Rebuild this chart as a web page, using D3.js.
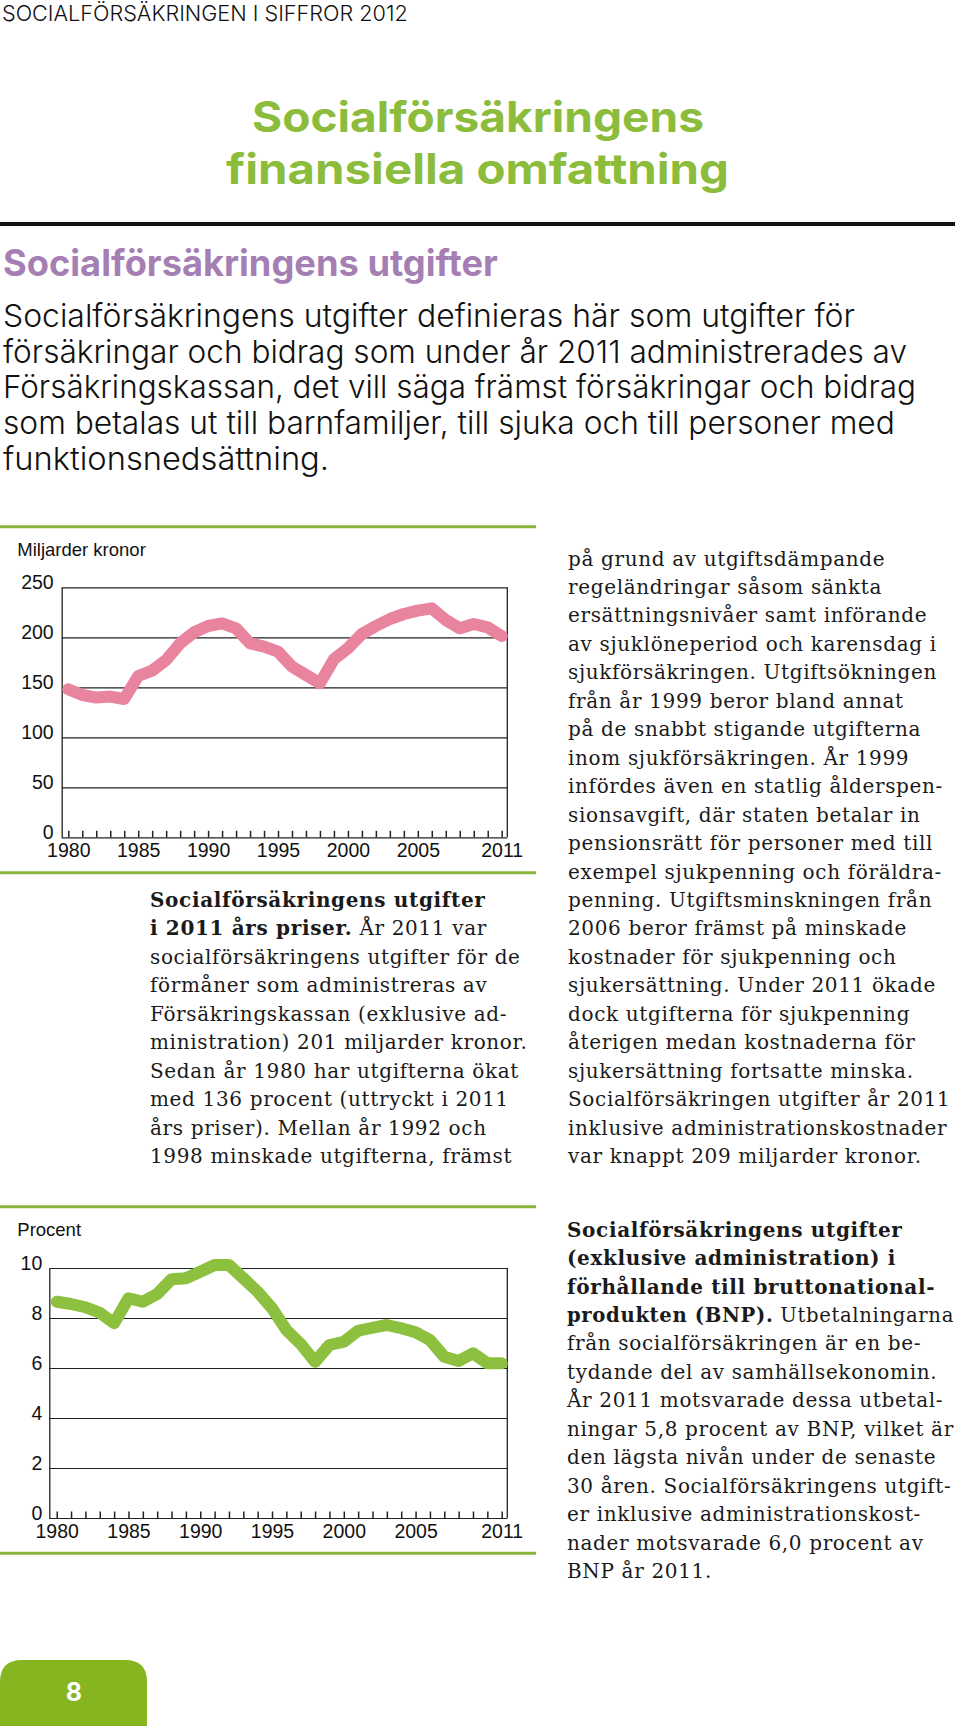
<!DOCTYPE html>
<html><head><meta charset="utf-8">
<script src="https://cdn.jsdelivr.net/npm/d3@7"></script>
<style>html,body{margin:0;padding:0;background:#fff}svg{display:block}</style>
</head><body>
<svg id="page" width="960" height="1726"></svg>
<script>
// ---------- DATA ----------
const years = [1980,1981,1982,1983,1984,1985,1986,1987,1988,1989,1990,1991,1992,1993,1994,1995,
               1996,1997,1998,1999,2000,2001,2002,2003,2004,2005,2006,2007,2008,2009,2010,2011];
const expenditureBn = [148,142.3,139.7,140.7,138.3,161.3,166.7,177.3,194,205,211.3,214,209,194,190.7,185.7,
                       170.7,162.3,154,178,189,203.3,211.3,218.3,223.3,226.7,229,217.3,209,213.3,210,201.3];
const shareOfGdp = [8.65,8.56,8.43,8.21,7.79,8.79,8.65,8.96,9.55,9.59,9.85,10.12,10.12,9.59,9.05,8.39,
                    7.52,6.96,6.25,6.92,7.05,7.49,7.61,7.72,7.59,7.43,7.12,6.45,6.28,6.59,6.19,6.19];
const expTicks = [0,50,100,150,200,250];
const gdpTicks = [0,2,4,6,8,10];
const yearLabels = [1980,1985,1990,1995,2000,2005,2011];
const expUnit = "Miljarder kronor";
const gdpUnit = "Procent";

// ---------- TEXT ----------
const headerText = "SOCIALFÖRSÄKRINGEN I SIFFROR 2012";
const titleLines = ["Socialförsäkringens", "finansiella omfattning"];
const headingText = "Socialförsäkringens utgifter";
const introLines = [
  "Socialförsäkringens utgifter definieras här som utgifter för",
  "försäkringar och bidrag som under år 2011 administrerades av",
  "Försäkringskassan, det vill säga främst försäkringar och bidrag",
  "som betalas ut till barnfamiljer, till sjuka och till personer med",
  "funktionsnedsättning."
];
const caption1Lines = [
  "**Socialförsäkringens utgifter**",
  "**i 2011 års priser.** År 2011 var",
  "socialförsäkringens utgifter för de",
  "förmåner som administreras av",
  "Försäkringskassan (exklusive ad-",
  "ministration) 201 miljarder kronor.",
  "Sedan år 1980 har utgifterna ökat",
  "med 136 procent (uttryckt i 2011",
  "års priser). Mellan år 1992 och",
  "1998 minskade utgifterna, främst"
];
const rightTopLines = [
  "på grund av utgiftsdämpande",
  "regeländringar såsom sänkta",
  "ersättningsnivåer samt införande",
  "av sjuklöneperiod och karensdag i",
  "sjukförsäkringen. Utgiftsökningen",
  "från år 1999 beror bland annat",
  "på de snabbt stigande utgifterna",
  "inom sjukförsäkringen. År 1999",
  "infördes även en statlig ålderspen-",
  "sionsavgift, där staten betalar in",
  "pensionsrätt för personer med till",
  "exempel sjukpenning och föräldra-",
  "penning. Utgiftsminskningen från",
  "2006 beror främst på minskade",
  "kostnader för sjukpenning och",
  "sjukersättning. Under 2011 ökade",
  "dock utgifterna för sjukpenning",
  "återigen medan kostnaderna för",
  "sjukersättning fortsatte minska.",
  "Socialförsäkringen utgifter år 2011",
  "inklusive administrationskostnader",
  "var knappt 209 miljarder kronor."
];
const caption2Lines = [
  "**Socialförsäkringens utgifter**",
  "**(exklusive administration) i**",
  "**förhållande till bruttonational-**",
  "**produkten (BNP).** Utbetalningarna",
  "från socialförsäkringen är en be-",
  "tydande del av samhällsekonomin.",
  "År 2011 motsvarade dessa utbetal-",
  "ningar 5,8 procent av BNP, vilket är",
  "den lägsta nivån under de senaste",
  "30 åren. Socialförsäkringens utgift-",
  "er inklusive administrationskost-",
  "nader motsvarade 6,0 procent av",
  "BNP år 2011."
];
const pageNumber = "8";

// ---------- STYLE ----------
const SANS = "Inter, 'Open Sans', 'Noto Sans', sans-serif";
const CHART = "'Liberation Sans', Arial, Helvetica, sans-serif";
const SERIF = "'DejaVu Serif', 'Liberation Serif', serif";
const GREEN_TITLE = "#8cbc3c", GREEN_RULE = "#8ab43a", GREEN_LINE = "#8dc03f", GREEN_BOX = "#86b51f";
const PINK = "#e9849f", PURPLE = "#a57fb4";

const svg = d3.select("#page");

function fitted(lines, o) {
  const ts = lines.map((ln, i) => svg.append("text")
    .attr("x", o.x).attr("y", o.y0 + i * (o.lh || 0))
    .attr("text-anchor", o.anchor || "start")
    .style("font-family", o.family).style("font-size", o.size + "px")
    .style("font-weight", o.weight || 400).attr("fill", o.fill || "#111")
    .text(ln));
  let nat = 0, tgt = 0;
  ts.forEach((t, i) => { nat += t.node().getComputedTextLength(); tgt += o.widths[i]; });
  const s = nat > 0 ? o.size * tgt / nat : o.size;
  ts.forEach((t, i) => {
    t.style("font-size", s + "px");
    const w = t.node().getComputedTextLength();
    if (w > 0 && Math.abs(w - o.widths[i]) / o.widths[i] > 0.004)
      t.attr("textLength", o.widths[i]).attr("lengthAdjust", "spacingAndGlyphs");
  });
}

function richBlock(lines, x, y0, lh, maxRight) {
  lines.forEach((ln, i) => {
    const t = svg.append("text").attr("x", x).attr("y", y0 + i * lh)
      .style("font-family", SERIF).style("font-size", "20px")
      .style("letter-spacing", "0.65px").attr("fill", "#1a1a1a");
    ln.split("**").forEach((seg, k) => {
      if (!seg) return;
      t.append("tspan").style("font-weight", k % 2 === 1 ? 700 : 400).text(seg);
    });
    const w = t.node().getComputedTextLength();
    if (w > maxRight - x) t.attr("textLength", maxRight - x).attr("lengthAdjust", "spacingAndGlyphs");
  });
}

// ---------- HEADER ----------
fitted([headerText], {x: 2, y0: 21, size: 18.5, family: SANS, weight: 300, fill: "#111", widths: [406]});
svg.append("text").attr("x", 478).attr("y", 131.7).attr("text-anchor", "middle")
  .style("font-family", SANS).style("font-weight", 700).style("font-size", "42px")
  .attr("fill", GREEN_TITLE).text(titleLines[0]).attr("textLength", 452).attr("lengthAdjust", "spacingAndGlyphs");
svg.append("text").attr("x", 477.5).attr("y", 184.3).attr("text-anchor", "middle")
  .style("font-family", SANS).style("font-weight", 700).style("font-size", "42px")
  .attr("fill", GREEN_TITLE).text(titleLines[1]).attr("textLength", 503).attr("lengthAdjust", "spacingAndGlyphs");
svg.append("rect").attr("x", 0).attr("y", 222).attr("width", 955).attr("height", 4).attr("fill", "#111");

fitted([headingText], {x: 3, y0: 276, size: 29, family: SANS, weight: 700, fill: PURPLE, widths: [495]});
fitted(introLines, {x: 3, y0: 327, lh: 35.7, size: 27, family: SANS, weight: 300, fill: "#111",
  widths: [852, 904, 913, 891, 326]});

// ---------- CHART ----------
function lineChart(cfg) {
  const x = d3.scaleLinear().domain([years[0], years[years.length - 1]]).range([cfg.x0, cfg.x1]);
  const y = d3.scaleLinear().domain([0, cfg.ticks[cfg.ticks.length - 1]]).range([cfg.bottom, cfg.top]);
  const g = svg.append("g");

  [cfg.ruleTop, cfg.ruleBottom].forEach(ry => g.append("line")
    .attr("x1", 0).attr("x2", 536).attr("y1", ry).attr("y2", ry)
    .attr("stroke", GREEN_RULE).attr("stroke-width", 3));

  g.append("text").attr("x", 17.3).attr("y", cfg.unitY).text(cfg.unit)
    .style("font-family", CHART).style("font-size", "18.5px").attr("fill", "#111");

  const ya = g.append("g").attr("transform", `translate(${cfg.boxL},0)`)
    .call(d3.axisLeft(y).tickValues(cfg.ticks).tickSize(-(cfg.boxR - cfg.boxL)).tickSizeOuter(0).tickPadding(cfg.pad));
  ya.select(".domain").attr("stroke", "#222").attr("stroke-width", 1.3);
  ya.selectAll(".tick line").attr("stroke", "#222").attr("stroke-width", 1.2);
  ya.selectAll(".tick text").attr("dy", null).attr("y", 1)
    .style("font-family", CHART).style("font-size", "19.5px").attr("fill", "#111");

  g.append("line").attr("x1", cfg.boxR).attr("x2", cfg.boxR).attr("y1", cfg.top).attr("y2", cfg.bottom)
    .attr("stroke", "#222").attr("stroke-width", 1.3);

  const xa = g.append("g").attr("transform", `translate(0,${cfg.bottom})`)
    .call(d3.axisBottom(x).tickValues(years).tickSize(-6.5).tickSizeOuter(0)
      .tickFormat(d => yearLabels.includes(d) ? String(d) : ""));
  xa.select(".domain").remove();
  xa.selectAll(".tick line").attr("stroke", "#222").attr("stroke-width", 1.5);
  xa.selectAll(".tick text").attr("dy", null).attr("y", 20)
    .style("font-family", CHART).style("font-size", "19.5px").attr("fill", "#111");

  const line = d3.line().x((d, i) => x(years[i])).y(d => y(d));
  g.append("path").datum(cfg.values).attr("d", line)
    .attr("fill", "none").attr("stroke", cfg.color).attr("stroke-width", 12)
    .attr("stroke-linejoin", "round").attr("stroke-linecap", "round");
}

lineChart({values: expenditureBn, ticks: expTicks, unit: expUnit, color: PINK,
  boxL: 61.7, boxR: 507.3, top: 587.3, bottom: 837.3, x0: 68.3, x1: 501.7, pad: 8,
  ruleTop: 526.7, ruleBottom: 872.7, unitY: 556});
lineChart({values: shareOfGdp, ticks: gdpTicks, unit: gdpUnit, color: GREEN_LINE,
  boxL: 49.3, boxR: 507.3, top: 1268, bottom: 1518, x0: 56.7, x1: 501.7, pad: 7,
  ruleTop: 1206.7, ruleBottom: 1553.3, unitY: 1236});

// ---------- SERIF TEXT ----------
richBlock(caption1Lines, 150, 907, 28.46, 530);
richBlock(rightTopLines, 568, 565.5, 28.46, 954);
richBlock(caption2Lines, 567, 1236.7, 28.44, 954);

// ---------- PAGE NUMBER ----------
svg.append("path").attr("d", "M0,1726 V1682 Q0,1660 22,1660 H125 Q147,1660 147,1682 V1726 Z").attr("fill", GREEN_BOX);
svg.append("text").attr("x", 74).attr("y", 1701).attr("text-anchor", "middle")
  .style("font-family", SANS).style("font-weight", 700).style("font-size", "25px")
  .attr("fill", "#fff").text(pageNumber);
</script>
</body></html>
